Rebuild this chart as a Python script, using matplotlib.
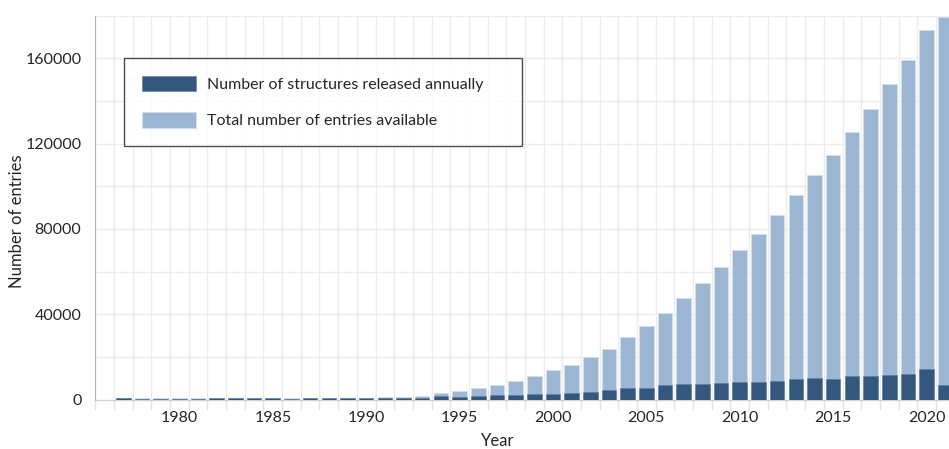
import numpy as np
import matplotlib
matplotlib.use("Agg")
import matplotlib.pyplot as plt
from matplotlib.ticker import MultipleLocator

plt.rcParams["font.family"] = ["Lato", "DejaVu Sans"]

# values
years = list(range(1977, 2022))
total_entries = [
    550, 560, 570, 580, 590, 620, 640, 660, 680, 690,
    720, 750, 800, 850, 950, 1300, 1700, 3100, 3900, 5500,
    6900, 8900, 11100, 13800, 16400, 19700, 23800, 29100, 34400, 40500,
    47700, 54600, 61900, 69900, 77400, 86300, 95900, 105400, 114600, 125300,
    136400, 147800, 159200, 173300, 179400,
]
released_annually = [
    550, 100, 100, 100, 100, 600, 600, 600, 600, 100,
    600, 650, 700, 750, 800, 900, 800, 1600, 1200, 1700,
    2000, 2300, 2800, 2800, 3100, 3600, 4400, 5500, 5500, 6600,
    7400, 7400, 7700, 8100, 8100, 8900, 9700, 10000, 9700, 11100,
    11100, 11600, 12000, 14400, 6700,
]

dark = "#33577f"
light = "#9cb6d4"
text_col = "#262626"

fig = plt.figure(figsize=(9.49, 4.49), dpi=100)
ax = fig.add_axes([95.3 / 949, 49.5 / 449, 1 - 95.3 / 949, 384 / 449])

ax.bar(years, total_entries, width=0.78, color=light, edgecolor="#d3dfec",
       linewidth=0.6, label="Total number of entries available", zorder=3)
ax.bar(years, released_annually, width=0.78, color=dark, edgecolor="#5f7d9f",
       linewidth=0.4, label="Number of structures released annually", zorder=4)

ax.set_xlim(1975.5, 2021.2)
ax.set_ylim(0, 180000)

ax.xaxis.set_major_locator(MultipleLocator(5))
ax.xaxis.set_minor_locator(MultipleLocator(1, offset=0.5))
ax.yaxis.set_major_locator(MultipleLocator(40000))
ax.yaxis.set_minor_locator(MultipleLocator(20000))

ax.grid(True, which="minor", axis="x", color="#ececec", linewidth=1, zorder=0)
ax.grid(True, which="both", axis="y", color="#ececec", linewidth=1, zorder=0)

ax.tick_params(axis="x", which="major", length=0, pad=8, labelsize=11.5, labelcolor=text_col)
ax.tick_params(axis="x", which="minor", length=7, width=1, color="#e4e4e4")
ax.tick_params(axis="y", which="both", length=0, pad=10, labelsize=11.5, labelcolor=text_col)

for side in ["top", "right"]:
    ax.spines[side].set_visible(False)
ax.spines["left"].set_color("#b5b5b5")
ax.spines["bottom"].set_color("#cfcfcf")
ax.spines["left"].set_zorder(5)

ax.set_xlabel("Year", fontsize=12, color=text_col)
ax.xaxis.set_label_coords((498 - 95.3) / (949 - 95.3), -34 / 384)
ax.set_ylabel("Number of entries", fontsize=12, color=text_col)
ax.yaxis.set_label_coords(-70 / 853.7, (400 - 222) / 384)

handles, labels = ax.get_legend_handles_labels()
leg = fig.legend(handles[::-1], labels[::-1],
                 loc="upper left", bbox_to_anchor=(124 / 949, 1 - 58 / 449, 398 / 949, 0),
                 mode="expand", fontsize=11.5, frameon=True, fancybox=False,
                 edgecolor="#222222", borderpad=1.1, labelspacing=1.25,
                 handlelength=3.4, handleheight=1.15, handletextpad=0.7,
                 borderaxespad=0)
leg.get_frame().set_linewidth(1.0)
for t in leg.get_texts():
    t.set_color(text_col)

fig.savefig("out.png", dpi=100)
